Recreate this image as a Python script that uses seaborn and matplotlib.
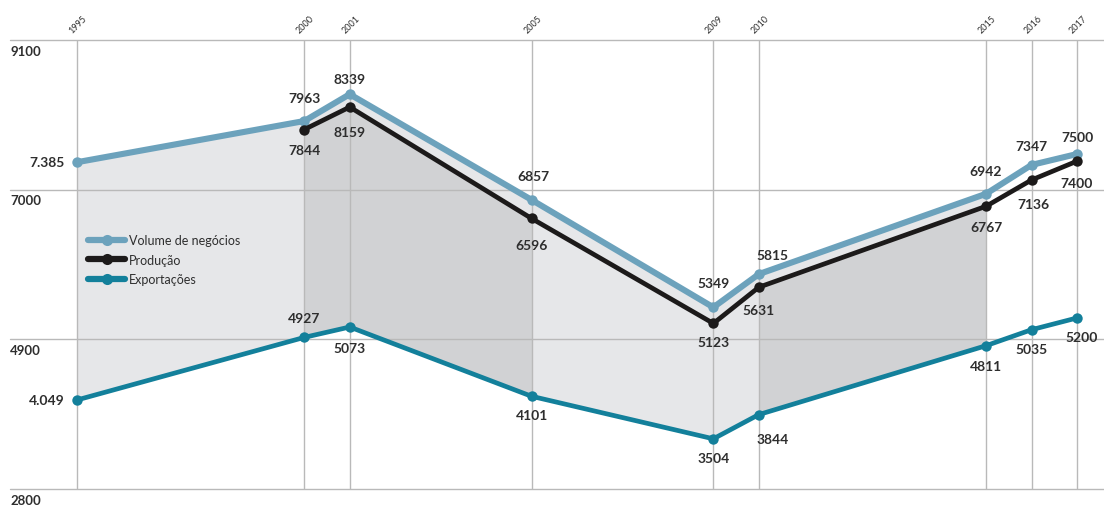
import matplotlib
matplotlib.use("Agg")
import matplotlib.pyplot as plt
import seaborn as sns
import pandas as pd

years = [1995, 2000, 2001, 2005, 2009, 2010, 2015, 2016, 2017]
volume = [7385, 7963, 8339, 6857, 5349, 5815, 6942, 7347, 7500]
prod_years = [2000, 2001, 2005, 2009, 2010, 2015, 2016, 2017]
producao = [7844, 8159, 6596, 5123, 5631, 6767, 7136, 7400]
exportacoes = [4049, 4927, 5073, 4101, 3504, 3844, 4811, 5035, 5200]
y_ticks = [9100, 7000, 4900, 2800]

vol_labels = ["7.385", "7963", "8339", "6857", "5349", "5815", "6942", "7347", "7500"]
prod_labels = ["7844", "8159", "6596", "5123", "5631", "6767", "7136", "7400"]
exp_labels = ["4.049", "4927", "5073", "4101", "3504", "3844", "4811", "5035", "5200"]

c_vol = "#6ca2bc"
c_prod = "#1c1a1a"
c_exp = "#13809b"
c_light = "#e6e7e9"
c_dark = "#d1d2d4"
c_grid = "#b9b9b9"
c_text = "#2e2e2e"

sns.set_style("white")
plt.rcParams["font.family"] = ["Lato", "DejaVu Sans"]

fig = plt.figure(figsize=(11.04, 5.06), dpi=100)
ax = fig.add_axes([0, 0, 1, 1])
ax.set_xlim(1993.306, 2017.594)
ax.set_ylim(2575.5, 9675)
ax.axis("off")

# shaded areas
ax.fill_between(years[:7], volume[:7], exportacoes[:7], color=c_light, lw=0, zorder=1)
ax.fill_between(prod_years[:3], producao[:3], exportacoes[1:4], color=c_dark, lw=0, zorder=1)
ax.fill_between(prod_years[4:6], producao[4:6], exportacoes[5:7], color=c_dark, lw=0, zorder=1)
ax.fill_between(prod_years[:6], volume[1:7], producao[:6], color=c_light, lw=0, zorder=1)

# grid
x0 = 1993.306 + 10 / 45.45
for t in y_ticks:
    ax.plot([x0, 2017.594], [t, t], color=c_grid, lw=1, zorder=2)
    ax.text(x0, t - 65, str(t), ha="left", va="top", fontsize=9.5,
            fontweight="bold", color=c_text)
ax.vlines(years, 2800, 9100, color=c_grid, lw=1, zorder=2)
for yr in years:
    ax.annotate(str(yr), (yr, 9100), xytext=(-3, 6), textcoords="offset pixels",
                rotation=45, rotation_mode="anchor", ha="left", va="bottom",
                fontsize=6.5, color=c_text)

df = pd.concat([
    pd.DataFrame({"ano": years, "valor": volume, "serie": "Volume de negócios"}),
    pd.DataFrame({"ano": prod_years, "valor": producao, "serie": "Produção"}),
    pd.DataFrame({"ano": years, "valor": exportacoes, "serie": "Exportações"}),
])
palette = {"Volume de negócios": c_vol, "Produção": c_prod, "Exportações": c_exp}
widths = {"Volume de negócios": 4.4, "Produção": 3.4, "Exportações": 3.4}
for name in ["Volume de negócios", "Produção", "Exportações"]:
    sub = df[df["serie"] == name]
    sns.lineplot(data=sub, x="ano", y="valor", color=palette[name], lw=widths[name],
                 marker="o", markersize=7.5, markeredgewidth=0, label=name,
                 ax=ax, zorder=4 if name != "Volume de negócios" else 3)

def label_series(xs, vals, labels, offsets):
    for x, v, lab, (dx, dy) in zip(xs, vals, labels, offsets):
        ha = "center"
        if lab in ("7.385", "4.049"):
            ha = "right"
        ax.annotate(lab, (x, v), xytext=(dx, dy), textcoords="offset pixels",
                    ha=ha, va="center", fontsize=10, fontweight="bold",
                    color=c_text, zorder=6)

label_series(years, volume, vol_labels,
             [(-12, 0), (0, 23), (0, 15), (2, 24), (0, 24), (14, 19), (0, 23), (0, 19), (0, 17)])
label_series(prod_years, producao, prod_labels,
             [(0, -20), (0, -25), (0, -27), (0, -19), (0, -23), (0, -21), (2, -24), (0, -22)])
label_series(years, exportacoes, exp_labels,
             [(-12, 0), (0, 19), (0, -21), (0, -19), (0, -19), (14, -24), (0, -20), (0, -19), (5, -19)])

leg = ax.legend(loc="upper left", bbox_to_anchor=(0.075, 0.545), frameon=False,
                fontsize=9, handlelength=3.0, handletextpad=0.3, labelspacing=0.6,
                borderaxespad=0)
for h in leg.legend_handles:
    h.set_linewidth(4.5)
    h.set_markersize(8)
for txt in leg.get_texts():
    txt.set_color(c_text)

fig.savefig("out.png", dpi=100)
